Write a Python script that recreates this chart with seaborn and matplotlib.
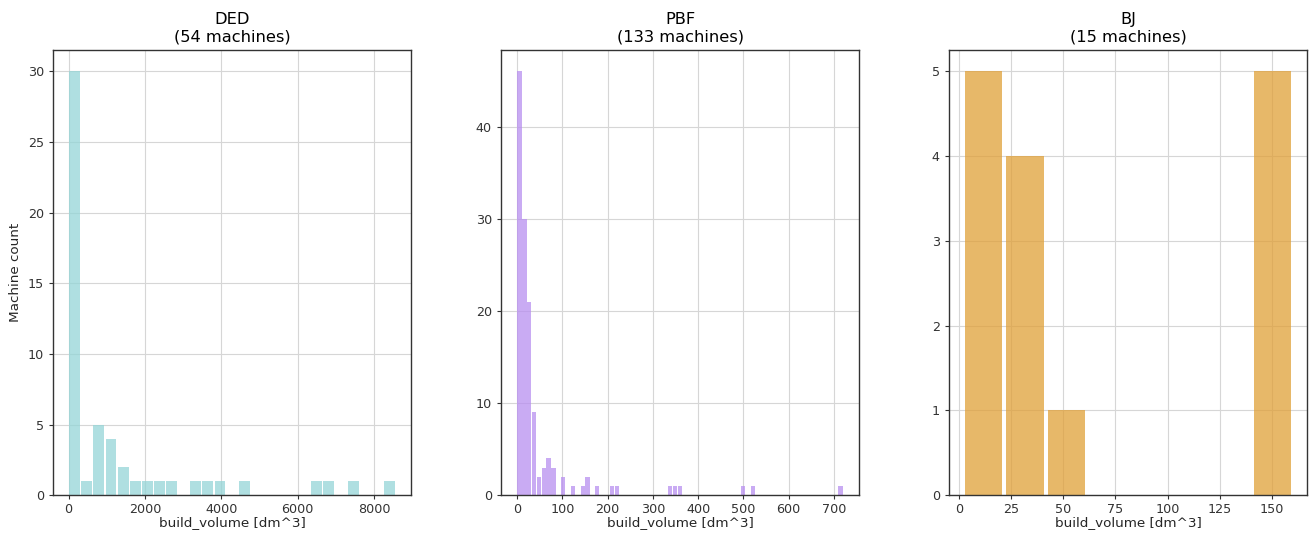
import numpy as np
import pandas as pd
import matplotlib
matplotlib.use("Agg")
import matplotlib.pyplot as plt
from matplotlib.ticker import MultipleLocator
import seaborn as sns

# bin counts, per process
ded_counts = [30, 1, 5, 4, 2, 1, 1, 1, 1, 0, 1, 1, 1, 0, 1, 0, 0, 0, 0, 0,
              1, 1, 0, 1, 0, 0, 1]
ded_range = (0, 8560)

pbf_counts = [46, 30, 21, 9, 2, 3, 4, 3, 0, 2, 0, 1, 0, 1, 2, 0, 1, 0, 0, 1,
              1, 0, 0, 0, 0, 0, 0, 0, 0, 0, 0, 1, 1, 1, 0, 0, 0, 0, 0, 0,
              0, 0, 0, 0, 0, 0, 1, 0, 1, 0, 0, 0, 0, 0, 0, 0, 0, 0, 0, 0,
              0, 0, 0, 0, 0, 0, 1]
pbf_range = (0, 720)

bj_counts = [5, 4, 1, 0, 0, 0, 0, 5]
bj_range = (2, 160)

processes = ["DED", "PBF", "BJ"]
colors = ["#94d5d7", "#b88ff0", "#e0a037"]
x_steps = [2000, 100, 25]

sns.set_style("whitegrid", {
    "axes.edgecolor": "#333333",
    "grid.color": "#d6d6d6",
    "xtick.bottom": True,
    "ytick.left": True,
})
plt.rcParams["font.family"] = ["DejaVu Sans"]
plt.rcParams["xtick.labelsize"] = 9.2
plt.rcParams["ytick.labelsize"] = 9.2
plt.rcParams["xtick.color"] = "#333333"
plt.rcParams["ytick.color"] = "#333333"
plt.rcParams["xtick.major.size"] = 3
plt.rcParams["ytick.major.size"] = 3
plt.rcParams["xtick.major.pad"] = 2.5

fig, axes = plt.subplots(1, 3, figsize=(13.09, 5.34), dpi=100)
fig.subplots_adjust(left=0.0405, right=0.9985, bottom=0.0725, top=0.9064,
                    wspace=0.251)

panels = [(ded_counts, ded_range), (pbf_counts, pbf_range), (bj_counts, bj_range)]
for ax, name, col, step, (counts, rng) in zip(axes, processes, colors, x_steps, panels):
    edges = np.linspace(rng[0], rng[1], len(counts) + 1)
    df = pd.DataFrame({"build_volume": (edges[:-1] + edges[1:]) / 2,
                       "count": counts})
    sns.histplot(data=df, x="build_volume", weights="count",
                 bins=list(edges), shrink=0.9, color=col, alpha=0.75,
                 linewidth=0, ax=ax)
    ax.xaxis.set_major_locator(MultipleLocator(step))
    ax.set_title(f"{name}\n({sum(counts)} machines)", fontsize=11.7,
                 color="black")
    ax.set_xlabel("build_volume [dm^3]", fontsize=9.7, labelpad=0)
    ax.set_ylabel("")
    for s in ax.spines.values():
        s.set_linewidth(1.0)

axes[0].set_ylabel("Machine count", fontsize=9.7)

fig.savefig("out.png", dpi=100)
